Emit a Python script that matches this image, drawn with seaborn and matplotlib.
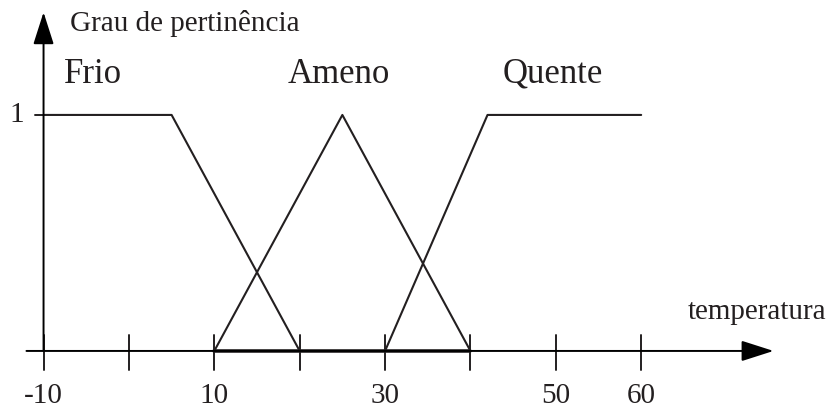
import matplotlib
matplotlib.use("Agg")
import matplotlib.pyplot as plt
import seaborn as sns
import pandas as pd

# Membership functions for temperature (fuzzy sets)
frio_x = [-10, 5, 20]
frio_y = [1, 1, 0]
ameno_x = [10, 25, 40]
ameno_y = [0, 1, 0]
quente_x = [30, 42, 60]
quente_y = [0, 1, 1]

set_names = ["Frio", "Ameno", "Quente"]
set_label_x = [-4.2, 24.6, 49.7]

tick_positions = [-10, 0, 10, 20, 30, 40, 50, 60]
tick_labels = ["-10", "", "10", "", "30", "", "50", "60"]

sns.set_theme(style="white")
plt.rcParams["font.family"] = ["Liberation Serif", "DejaVu Serif"]

INK = "#231f20"

fig = plt.figure(figsize=(8.35, 4.09), dpi=100)
ax = fig.add_axes([0, 0, 1, 1])
ax.set_xlim(-15.1, 82.7)
ax.set_ylim(-0.246, 1.487)
ax.axis("off")

df = pd.concat([
    pd.DataFrame({"x": frio_x, "y": frio_y, "set": "Frio"}),
    pd.DataFrame({"x": ameno_x, "y": ameno_y, "set": "Ameno"}),
    pd.DataFrame({"x": quente_x, "y": quente_y, "set": "Quente"}),
])

# Heavier base segment under the triangular set
base = pd.DataFrame({"x": [ameno_x[0], ameno_x[-1]], "y": [0, 0]})
sns.lineplot(data=base, x="x", y="y", ax=ax, color=INK, linewidth=2.6,
             sort=False, estimator=None, legend=False)

for name in set_names:
    sub = df[df["set"] == name]
    sns.lineplot(data=sub, x="x", y="y", ax=ax, color=INK, linewidth=1.5,
                 sort=False, estimator=None, legend=False)

# Axes drawn as arrows
arrow_kw = dict(arrowstyle="-|>,head_length=1.0,head_width=0.32",
                mutation_scale=20, color="black", lw=1.4,
                shrinkA=0, shrinkB=0)
ax.annotate("", xy=(75.5, 0), xytext=(-12.0, 0), arrowprops=arrow_kw)
ax.annotate("", xy=(-10, 1.435), xytext=(-10, 0), arrowprops=arrow_kw)

# x ticks and labels
for pos, lab in zip(tick_positions, tick_labels):
    ax.plot([pos, pos], [-0.08, 0.068], color=INK, lw=1.4)
    if lab:
        ax.text(pos, -0.22, lab, ha="center", va="baseline",
                fontsize=21, color=INK)

# y tick at 1
ax.plot([-10.95, -10], [1, 1], color=INK, lw=1.4)
ax.text(-13.1, 1.0, "1", ha="center", va="center", fontsize=21, color=INK)

# Set names
for name, lx in zip(set_names, set_label_x):
    ax.text(lx, 1.136, name, ha="center", va="baseline", fontsize=25,
            color=INK)

# Axis titles
ax.text(-6.85, 1.356, "Grau de pertinência", ha="left", va="baseline",
        fontsize=21, color=INK)
ax.text(65.5, 0.136, "temperatura", ha="left", va="baseline",
        fontsize=21, color=INK)

fig.savefig("out.png", dpi=100)
